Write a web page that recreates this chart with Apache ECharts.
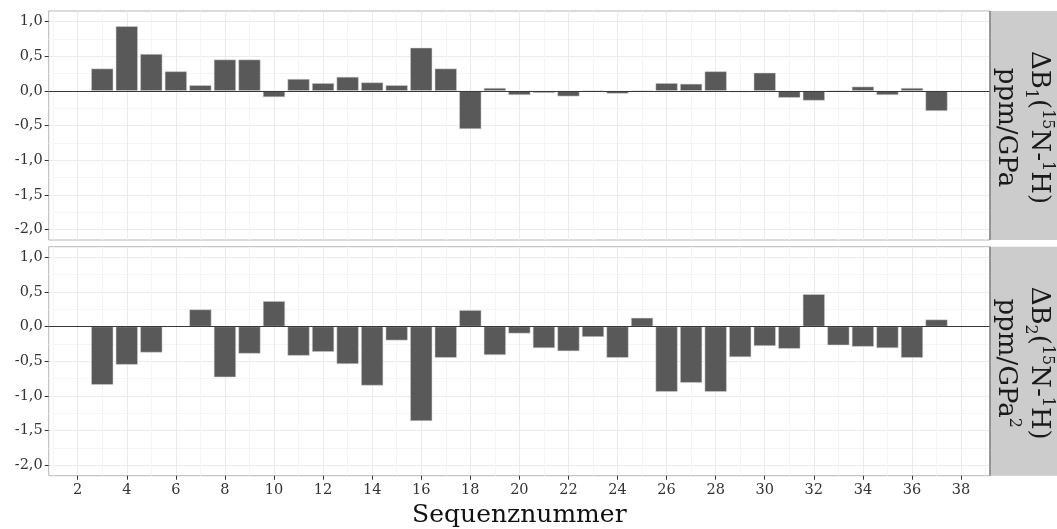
<!DOCTYPE html>
<html style="height: 100%">
<head>
<meta charset="utf-8">
</head>
<body style="height: 100%; margin: 0">
	<div id="container" style="width: 1057px; height: 529px"></div>
	<script type="text/javascript" src="https://cdn.jsdelivr.net/npm/echarts@6/dist/echarts.min.js"></script>
	<script type="text/javascript">
		// Sequenznummer 3..37
		var residues = [3, 4, 5, 6, 7, 8, 9, 10, 11, 12, 13, 14, 15, 16, 17, 18, 19, 20,
			21, 22, 23, 24, 25, 26, 27, 28, 29, 30, 31, 32, 33, 34, 35, 36, 37];
		// ΔB1 in ppm/GPa
		var b1 = [0.32, 0.93, 0.53, 0.28, 0.08, 0.45, 0.45, -0.09, 0.17, 0.11, 0.20, 0.12, 0.08, 0.62, 0.32, -0.55, 0.04, -0.06,
			-0.03, -0.08, 0, -0.04, 0, 0.11, 0.10, 0.28, -0.02, 0.26, -0.10, -0.14, 0, 0.06, -0.06, 0.04, -0.29];
		// ΔB2 in ppm/GPa^2
		var b2 = [-0.84, -0.55, -0.375, 0, 0.245, -0.73, -0.39, 0.365, -0.42, -0.365, -0.54, -0.85, -0.20, -1.36, -0.45, 0.235, -0.41, -0.10,
			-0.31, -0.355, -0.15, -0.45, 0.125, -0.94, -0.81, -0.94, -0.44, -0.28, -0.32, 0.465, -0.27, -0.29, -0.31, -0.45, 0.10];
		var xTicks = [2, 4, 6, 8, 10, 12, 14, 16, 18, 20, 22, 24, 26, 28, 30, 32, 34, 36, 38];
		var xMinor = [1, 3, 5, 7, 9, 11, 13, 15, 17, 19, 21, 23, 25, 27, 29, 31, 33, 35, 37, 39];
		var yTicks = [-2, -1.5, -1, -0.5, 0, 0.5, 1];
		var yMinor = [-1.75, -1.25, -0.75, -0.25, 0.25, 0.75];
		// strip labels (rich text: sub / sup)
		var stripLabels = [
			'ΔB{sub|1}({sup|15}N-{sup|1}H)\nppm/GPa',
			'ΔB{sub|2}({sup|15}N-{sup|1}H)\nppm/GPa{sup|2}'
		];

		var FONT = 'DejaVu Serif';
		var panels = [{ top: 11, bottom: 289 }, { top: 246.7, bottom: 53.3 }];

		function pairs(vals) {
			var out = [];
			for (var i = 0; i < residues.length; i++) out.push([residues[i], vals[i]]);
			return out;
		}
		function komma(v) {
			return v.toFixed(1).replace('.', ',');
		}

		var dom = document.getElementById("container");
		var myChart = echarts.init(dom);
		var grid = [], xAxis = [], yAxis = [], series = [], graphic = [];

		panels.forEach(function (p, i) {
			var last = i == panels.length - 1;
			grid.push({ left: 48.7, right: 67, top: p.top, bottom: p.bottom, show: true, borderColor: '#b5b5b5', borderWidth: 1 });
			// main x axis
			xAxis.push({
				type: 'value', gridIndex: i, min: 0.818, max: 39.18,
				axisLine: { show: false, onZero: false },
				axisTick: { show: last, customValues: xTicks, length: 4, lineStyle: { color: '#333' } },
				axisLabel: { show: last, customValues: xTicks, margin: 7, color: '#333', fontFamily: FONT, fontSize: 14.5 },
				splitLine: { show: true, lineStyle: { color: '#ebebeb', width: 1 } },
				name: last ? 'Sequenznummer' : '', nameLocation: 'middle', nameGap: 27,
				nameTextStyle: { fontFamily: FONT, fontSize: 25, color: '#111' }
			});
			// minor x grid
			xAxis.push({
				type: 'value', gridIndex: i, min: 0.818, max: 39.18,
				axisLine: { show: false, onZero: false },
				axisTick: { show: false, customValues: xMinor },
				axisLabel: { show: false },
				splitLine: { show: true, lineStyle: { color: '#f5f5f5', width: 1 } }
			});
			yAxis.push({
				type: 'value', gridIndex: i, min: -2.15, max: 1.15,
				axisLine: { show: false, onZero: false },
				axisTick: { show: true, customValues: yTicks, length: 4, lineStyle: { color: '#333' } },
				axisLabel: { customValues: yTicks, margin: 6, color: '#333', fontFamily: FONT, fontSize: 14.5, formatter: komma },
				splitLine: { show: true, lineStyle: { color: '#ebebeb', width: 1 } }
			});
			yAxis.push({
				type: 'value', gridIndex: i, min: -2.15, max: 1.15,
				axisLine: { show: false, onZero: false },
				axisTick: { show: false, customValues: yMinor },
				axisLabel: { show: false },
				splitLine: { show: true, lineStyle: { color: '#f5f5f5', width: 1 } }
			});
			series.push({
				type: 'bar', xAxisIndex: i * 2, yAxisIndex: i * 2,
				data: pairs(i == 0 ? b1 : b2),
				barWidth: 22,
				itemStyle: { color: '#595959', borderColor: '#d4d4d4', borderWidth: 0.5 },
				markLine: {
					silent: true, symbol: ['none', 'none'], label: { show: false },
					lineStyle: { color: '#3a3a3a', width: 1, type: 'solid' },
					data: [{ yAxis: 0 }]
				}
			});

			// strip on the right
			var h = 529 - p.top - p.bottom;
			graphic.push({
				type: 'rect', shape: { x: 990, y: p.top, width: 67, height: h },
				style: { fill: '#cccccc' }, z: 10
			});
			graphic.push({
				type: 'line', shape: { x1: 990, y1: p.top, x2: 990, y2: p.top + h },
				style: { stroke: '#808080', lineWidth: 1.5 }, z: 11
			});
			graphic.push({
				type: 'text', x: 1022, y: p.top + h / 2 + 2, rotation: -Math.PI / 2, z: 12,
				style: {
					text: stripLabels[i], fontFamily: FONT, fontSize: 26, lineHeight: 33,
					fill: '#1a1a1a', align: 'center', verticalAlign: 'middle',
					rich: {
						sup: { fontFamily: FONT, fontSize: 16, lineHeight: 16, verticalAlign: 'top', fill: '#1a1a1a' },
						sub: { fontFamily: FONT, fontSize: 16, lineHeight: 16, verticalAlign: 'bottom', fill: '#1a1a1a' }
					}
				}
			});
		});

		var option = {
			animation: false,
			backgroundColor: '#ffffff',
			grid: grid,
			xAxis: xAxis,
			yAxis: yAxis,
			series: series,
			graphic: graphic
		};
		myChart.setOption(option, true);
	</script>
</body>
</html>
